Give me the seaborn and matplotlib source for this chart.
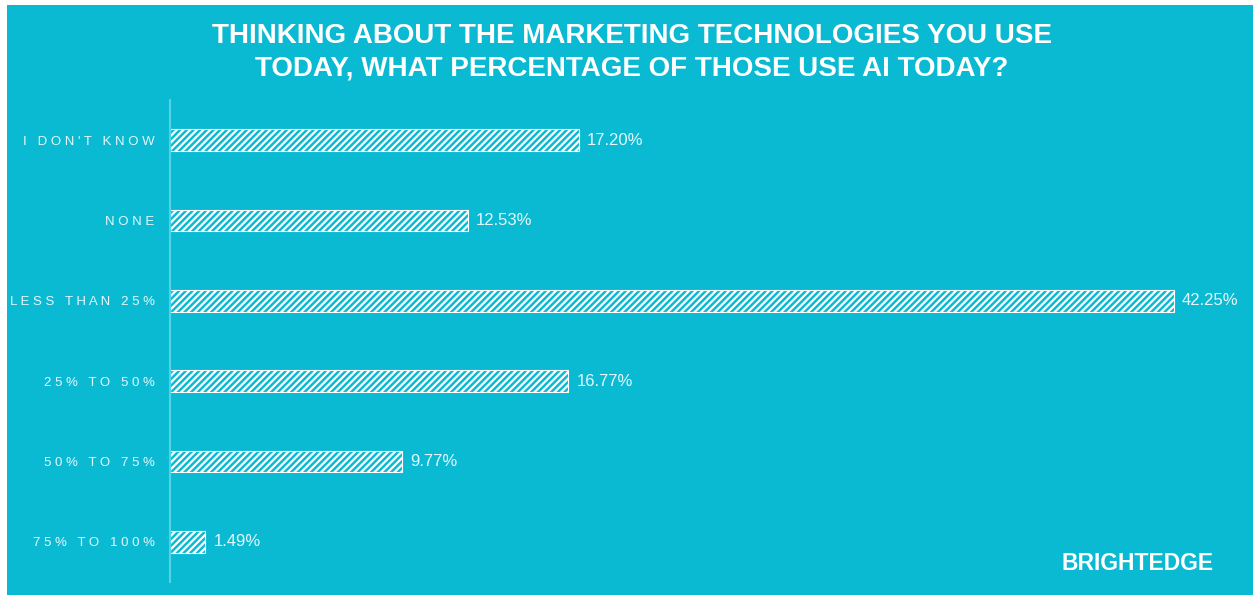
import matplotlib.pyplot as plt
import matplotlib.patches as mpatches
import seaborn as sns

# ── Data ──────────────────────────────────────────────────
categories = ["I DON'T KNOW", "NONE", "LESS THAN 25%", "25% TO 50%",
              "50% TO 75%", "75% TO 100%"]
values = [17.20, 12.53, 42.25, 16.77, 9.77, 1.49]

title_lines = ["THINKING ABOUT THE MARKETING TECHNOLOGIES YOU USE",
               "TODAY, WHAT PERCENTAGE OF THOSE USE AI TODAY?"]
brand = "BRIGHTEDGE"

TEAL = '#0ABAD3'
AXIS = '#52D2E6'
TXT = '#E4F8FB'

sns.set_style('white')
plt.rcParams['font.family'] = ['Liberation Sans', 'DejaVu Sans']
plt.rcParams['hatch.linewidth'] = 1.6
plt.rcParams['hatch.color'] = 'white'

# ── Figure ────────────────────────────────────────────────
W, H = 1253, 595
fig = plt.figure(figsize=(W / 100, H / 100), dpi=100, facecolor='white')
fig.patches.append(mpatches.Rectangle((7 / W, 0), 1 - 7 / W, 1 - 5 / H,
                                      transform=fig.transFigure,
                                      facecolor=TEAL, edgecolor='none', zorder=-5))

ax = fig.add_axes([170 / W, 13 / H, 1069 / W, 482 / H])
ax.set_facecolor('none')

sns.barplot(x=values, y=categories, orient='h', color=TEAL, saturation=1,
            width=0.27, edgecolor='white', linewidth=0.8, hatch='/////', ax=ax)

ax.bar_label(ax.containers[0], labels=[f'{v:.2f}%' for v in values],
             padding=6, color=TXT, fontsize=12)

ax.set_xlim(0, 45)
ax.set_xlabel('')
ax.set_ylabel('')
ax.set_xticks([])
# letter-spaced category labels
ax.set_yticks(range(len(categories)))
ax.set_yticklabels([' '.join(c) for c in categories], color=TXT, fontsize=9.5)
ax.tick_params(axis='y', length=0, pad=11)

for s in ['top', 'right', 'bottom']:
    ax.spines[s].set_visible(False)
ax.spines['left'].set_color(AXIS)
ax.spines['left'].set_linewidth(1.5)

# ── Title & brand ─────────────────────────────────────────
fig.text(632 / W, 1 - 52 / H, '\n'.join(title_lines), ha='center', va='center',
         color='white', fontsize=20, fontweight='bold', linespacing=1.33)
fig.text(1214 / W, 1 - 563 / H, brand, ha='right', va='center', color='white',
         fontsize=16.5, fontweight='bold')

plt.savefig('out.png', dpi=100, facecolor=fig.get_facecolor())
